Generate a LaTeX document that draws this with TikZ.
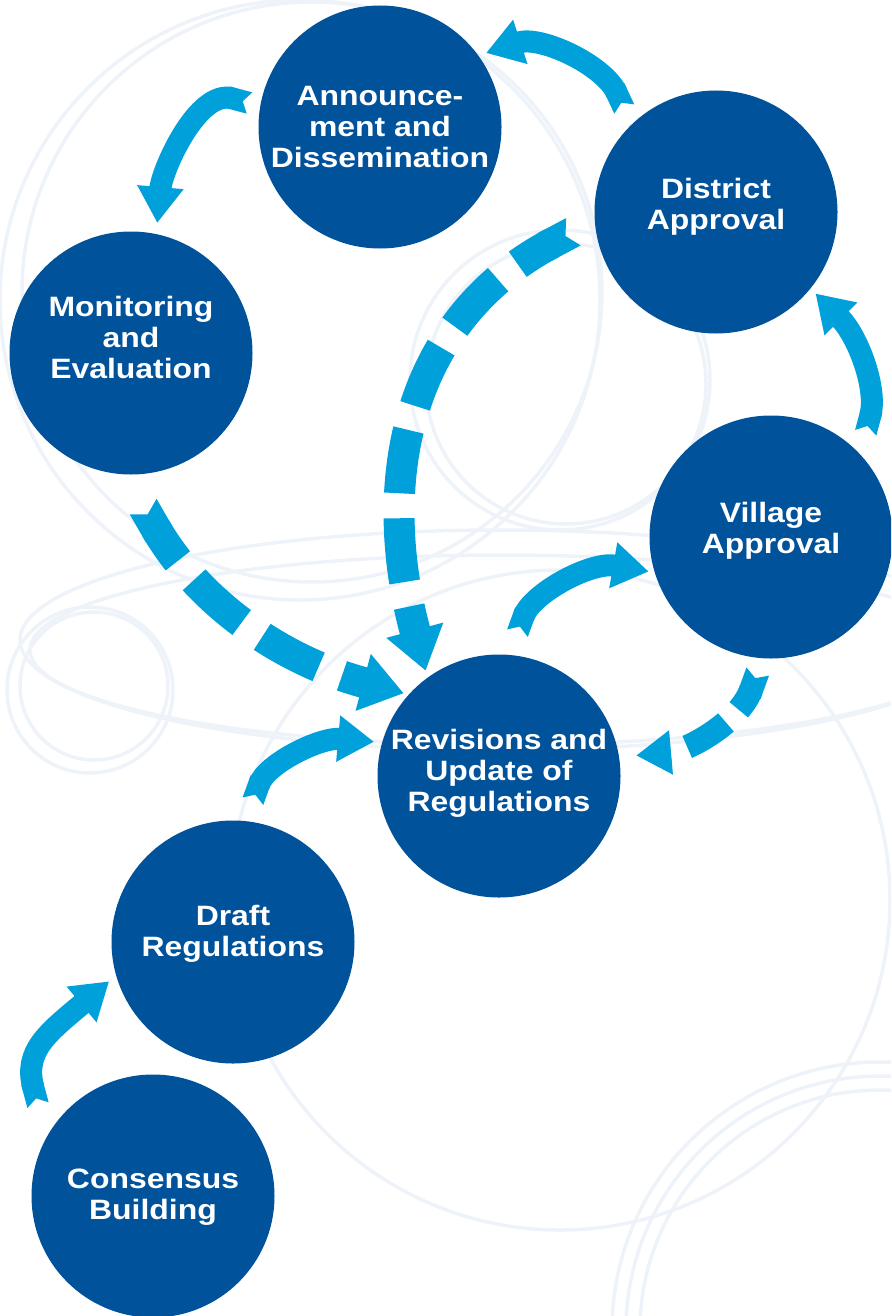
\documentclass[tikz,border=0pt]{standalone}
\usepackage{fontspec}
\setmainfont{Liberation Sans}[FakeStretch=1.14]
\usetikzlibrary{arrows.meta}
\definecolor{stageblue}{RGB}{0,82,155}
\definecolor{flowblue}{RGB}{0,160,218}
\definecolor{ringgray}{RGB}{238,243,250}
\tikzset{
  stage/.style={circle, fill=stageblue, text=white, minimum size=243pt, inner sep=0pt,
    align=center, font=\fontsize{28}{31}\selectfont\bfseries},
  flow/.style={flowblue, line width=22pt,
    arrows={Triangle Cap[reversed,length=7pt]-Triangle[width=44pt,length=36pt]}},
  dashflow/.style={flowblue, line width=31pt, dash pattern=on 64pt off 25pt, dash phase=24pt,
    arrows={Triangle Cap[reversed,length=9pt]-Triangle[width=56pt,length=42pt]}},
  smalldashflow/.style={flowblue, line width=24pt, dash pattern=on 46pt off 18pt, dash phase=22pt,
    arrows={Triangle Cap[reversed,length=7pt]-Triangle[width=42pt,length=35pt]}},
  ring/.style={ringgray, line width=3.5pt}
}
\newcommand{\stagenode}[4] {\node at (#1) (#2) [stage, text depth=#3] {#4};}
\newcommand{\flowarc}[5][] {\draw [flow, #1] (#2) to[out=#4, in=#5] (#3);}
\newcommand{\dashflowarc}[5][] {\draw [dashflow, #1] (#2) to[out=#4, in=#5] (#3);}

\begin{document}
\begin{tikzpicture}[x=1pt, y=1pt]
\useasboundingbox (0,0) rectangle (891,-1316);
\clip (0,0) rectangle (891,-1316);

% faint rings in the background
\draw [ring] (300,-300) circle (300);
\draw [ring] (312,-292) circle (290);
\draw [ring] (90,-690) circle (83);
\draw [ring] (94,-686) circle (74);
\draw [ring] (560,-380) circle (150);
\draw [ring] (566,-384) circle (140);
\draw [ring] (500,-640) ellipse (480 and 110);
\draw [ring] (500,-650) ellipse (470 and 95);
\draw [ring] (560,-900) circle (330);
\draw [ring] (880,-1330) circle (240);
\draw [ring] (880,-1330) circle (254);
\draw [ring] (880,-1330) circle (268);

\stagenode {380,-127} {A} {0pt} {Announce-\\ment and\\Dissemination};
\stagenode {716,-212} {D} {16pt} {District\\Approval};
\stagenode {131,-353} {M} {32pt} {Monitoring\\and\\Evaluation};
\stagenode {771,-537} {V} {18pt} {Village\\Approval};
\stagenode {499,-776} {R} {12pt} {Revisions and\\Update of\\Regulations};
\stagenode {233,-942} {Dr} {22pt} {Draft\\Regulations};
\stagenode {153,-1196} {C} {4pt} {Consensus\\Building};

\flowarc [shorten <=33pt, shorten >=9pt, looseness=1.3] {C.151} {Dr.196} {105} {220};
\flowarc [shorten <=21pt, shorten >=8pt] {Dr.84} {R.164} {70} {175};
\flowarc [shorten <=23pt, shorten >=6pt] {R.85} {V.197} {70} {170};
\flowarc [shorten <=22pt, shorten >=7pt] {V.43} {D.-39} {75} {-45};
\flowarc [shorten <=17pt, shorten >=8pt] {D.134} {A.36} {115} {18};
\flowarc [shorten <=11pt, shorten >=11pt] {A.170} {M.78} {165} {85};

\dashflowarc [shorten <=37pt, shorten >=5pt] {M.-93} {R.138} {-60} {165};
\dashflowarc [shorten <=24pt, shorten >=7pt, looseness=1.1] {D.184} {R.126} {208} {105};
\draw [smalldashflow, shorten <=14pt, shorten >=17pt] (V.-94) to[out=-110, in=5] (R.9);

\end{tikzpicture}
\end{document}
